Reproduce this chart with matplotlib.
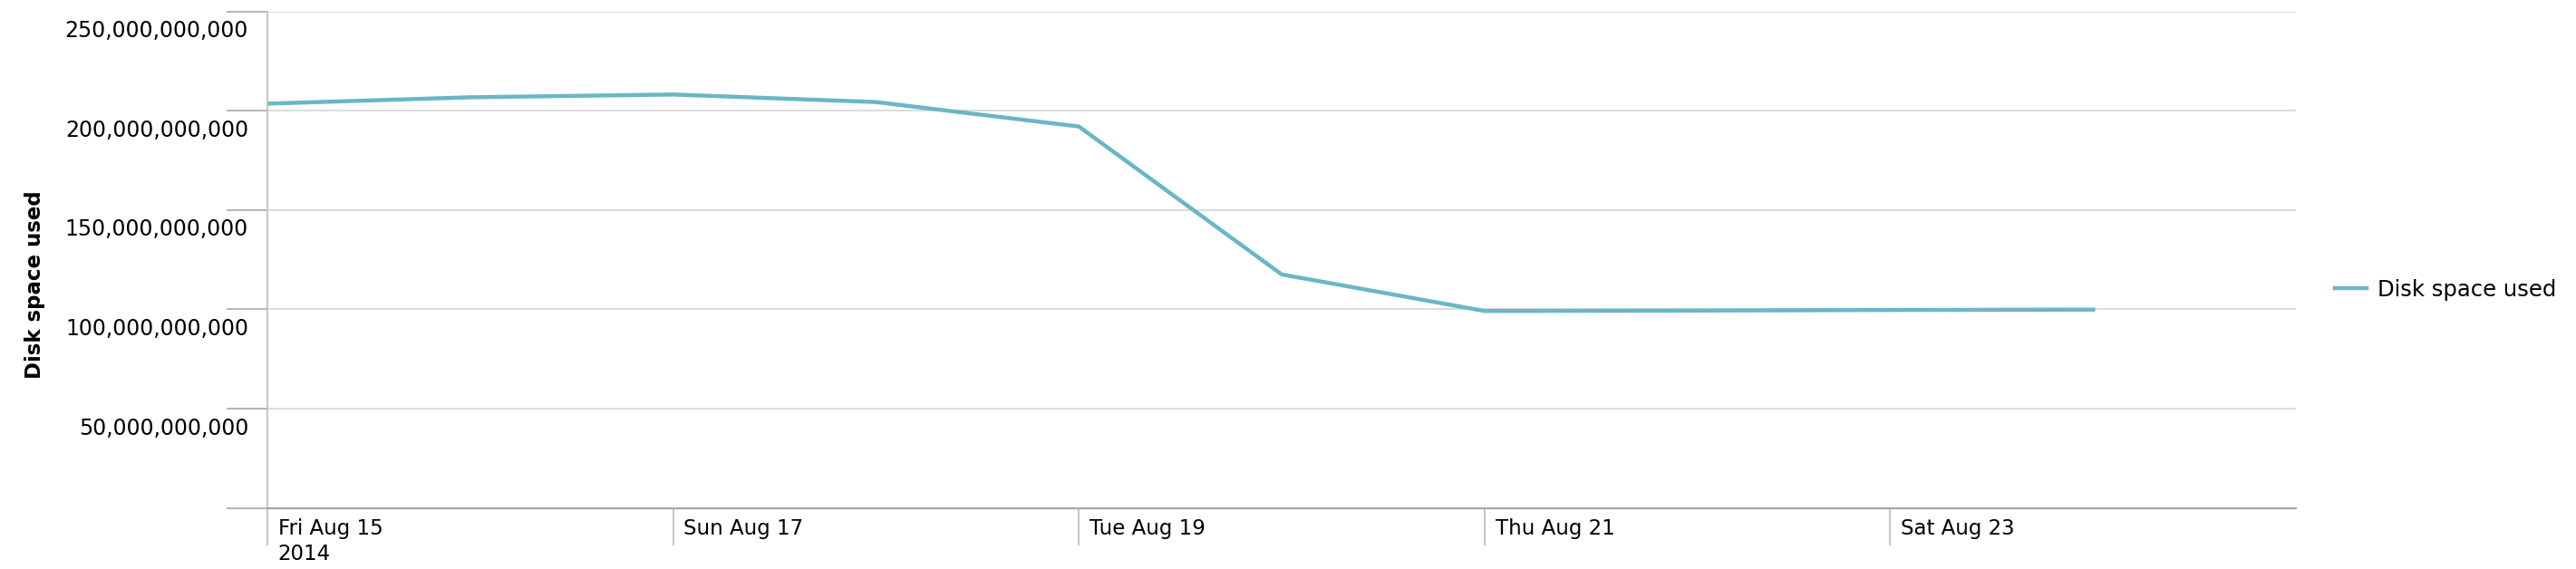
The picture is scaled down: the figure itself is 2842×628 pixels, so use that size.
import datetime as dt

import matplotlib
matplotlib.use("Agg")
import matplotlib.pyplot as plt
import matplotlib.ticker as mticker
import matplotlib.transforms as mtrans

# data
days = [dt.datetime(2014, 8, d) for d in range(15, 25)]
used = [203.6e9, 206.8e9, 208.2e9, 204.4e9, 192.1e9,
        117.6e9, 99.2e9, 99.4e9, 99.7e9, 99.9e9]
tick_days = [dt.datetime(2014, 8, d) for d in (15, 17, 19, 21, 23)]
tick_labels = ["Fri Aug 15\n2014", "Sun Aug 17", "Tue Aug 19", "Thu Aug 21", "Sat Aug 23"]
y_ticks = [0, 50e9, 100e9, 150e9, 200e9, 250e9]
series_name = "Disk space used"

plt.rcParams['font.family'] = ['DejaVu Sans']

fig = plt.figure(figsize=(28.42, 6.28), dpi=100)
ax = fig.add_axes([0.1038, 0.1072, 0.7875, 0.8726])

ax.plot(days, used, color='#6ab6c7', lw=3.2, label=series_name, solid_joinstyle='round')

ax.set_xlim(dt.datetime(2014, 8, 15), dt.datetime(2014, 8, 25))
ax.set_ylim(0, 250e9)

ax.set_xticks(tick_days)
ax.set_xticklabels(tick_labels, ha='left', va='top', linespacing=1.27)
ax.set_yticks(y_ticks)
ax.yaxis.set_major_formatter(mticker.FuncFormatter(lambda v, p: "" if v == 0 else f"{v:,.0f}"))

ax.grid(axis='y', color='#dcdcdc', lw=1.4)
ax.set_axisbelow(True)

for s in ('top', 'right'):
    ax.spines[s].set_visible(False)
ax.spines['left'].set_color('#c4c4c4')
ax.spines['left'].set_linewidth(1.4)
ax.spines['bottom'].set_color('#a8a8a8')
ax.spines['bottom'].set_linewidth(1.6)

ax.tick_params(axis='x', length=29.5, width=1.4, color='#c4c4c4', pad=-21.6, labelsize=16.5)
ax.tick_params(axis='y', length=32.4, width=1.4, color='#b4b4b4', pad=-17.3, labelsize=17)

# shift tick labels like the original (right of x ticks, below y gridlines)
off_x = mtrans.ScaledTranslation(8.4 / 72, 0, fig.dpi_scale_trans)
for lab in ax.get_xticklabels():
    lab.set_transform(lab.get_transform() + off_x)
off_y = mtrans.ScaledTranslation(0, -13.7 / 72, fig.dpi_scale_trans)
for lab in ax.get_yticklabels():
    lab.set_transform(lab.get_transform() + off_y)

ax.set_ylabel(series_name, fontsize=16.5, fontweight='bold')
ax.yaxis.set_label_coords(50 / 2842, 0.5, transform=fig.transFigure)

fig.legend(loc='center left', bbox_to_anchor=(2576 / 2842, 1 - 320 / 628), frameon=False,
           fontsize=17.5, handlelength=1.45, handletextpad=0.5, borderpad=0, borderaxespad=0)

fig.savefig("out.png", dpi=100)
